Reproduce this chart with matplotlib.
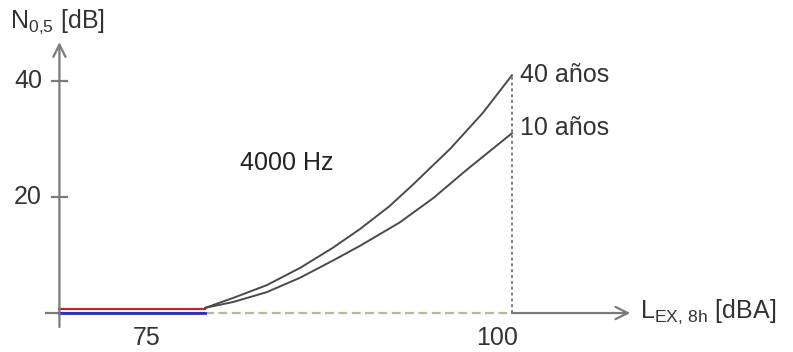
import matplotlib
matplotlib.use("Agg")
import matplotlib.pyplot as plt

plt.rcParams['font.family'] = ['Liberation Sans', 'DejaVu Sans']
plt.rcParams['mathtext.fontset'] = 'custom'
plt.rcParams['mathtext.rm'] = 'Liberation Sans'
plt.rcParams['mathtext.it'] = 'Liberation Sans'

# Hearing threshold shift N0,5 at 4000 Hz vs. daily exposure level
lex_40 = [79.0, 80.9, 83.2, 85.5, 87.7, 89.6, 91.6, 93.2, 95.8, 98.0, 100.0]
n_40 = [0.9, 2.6, 4.8, 7.8, 11.2, 14.5, 18.4, 22.1, 28.4, 34.5, 41.0]

lex_10 = [79.0, 80.9, 83.2, 85.5, 87.7, 89.6, 92.3, 94.6, 96.9, 100.0]
n_10 = [0.9, 1.9, 3.6, 6.1, 9.0, 11.6, 15.6, 19.8, 24.7, 31.0]

# flat part below the onset level
lex_flat = [69.0, 79.0]
n_flat_red = [0.7, 0.7]
n_flat_blue = [0.0, 0.0]

x_ticks = [75, 100]
y_ticks = [20, 40]
series_labels = ["40 años", "10 años"]
freq_label = "4000 Hz"

FS = 18
AX = '#7a7a7a'
CURVE = '#4a4a4a'
TXT = '#333333'

fig = plt.figure(figsize=(7.93, 3.52), dpi=100)
ax = fig.add_axes([0, 0, 1, 1])
ax.set_xlim(64.93, 119.25)
ax.set_ylim(-6.72, 53.97)
ax.axis('off')

x_origin = 69.0
x_end = 108.1
y_top = 46.7

# x axis: solid, dashed over the curve range, solid with arrow
ax.plot([68.0, 79.0], [0, 0], color=AX, lw=1.6, solid_capstyle='butt')
ax.plot([79.0, 100.0], [0, 0], color='#b8b89a', lw=1.6, ls=(0, (4, 2)))
ax.annotate('', xy=(x_end, 0), xytext=(100.0, 0),
            arrowprops=dict(arrowstyle='->', color=AX, lw=1.6,
                            mutation_scale=22, shrinkA=0, shrinkB=0))
# y axis with arrow
ax.annotate('', xy=(x_origin, y_top), xytext=(x_origin, -2.4),
            arrowprops=dict(arrowstyle='->', color=AX, lw=1.6,
                            mutation_scale=22, shrinkA=0, shrinkB=0))
for yt in y_ticks:
    ax.plot([x_origin - 0.5, x_origin + 0.5], [yt, yt], color=AX, lw=1.6)
    ax.text(67.8, yt, str(yt), ha='right', va='center', fontsize=FS, color=TXT)

for xt, dx in zip(x_ticks, [0.0, -1.0]):
    ax.text(xt + dx, -4.3, str(xt), ha='center', va='center', fontsize=FS, color=TXT)

# flat segments
ax.plot(lex_flat, n_flat_red, color='#c02828', lw=1.6)
ax.plot(lex_flat, n_flat_blue, color='#2a2ac8', lw=2.0)

# curves
ax.plot(lex_40, n_40, color=CURVE, lw=1.4)
ax.plot(lex_10, n_10, color=CURVE, lw=1.4)

# vertical dotted line at 100 dBA
ax.plot([100.0, 100.0], [0, n_40[-1]], color='#808080', lw=1.4, ls=(0, (1.5, 1.5)))

ax.text(100.55, n_40[-1], series_labels[0], ha='left', va='center', fontsize=FS, color=TXT)
ax.text(100.55, n_10[-1] + 0.9, series_labels[1], ha='left', va='center', fontsize=FS, color=TXT)
ax.text(81.4, 25.9, freq_label, ha='left', va='center', fontsize=FS, color='#222222')

ax.text(65.6, 50.2, r'N$_{\mathrm{0{,}5}}$ [dB]', ha='left', va='center', fontsize=FS, color=TXT)
ax.text(108.8, 0.2, r'L$_{\mathrm{EX,\,8h}}$ [dBA]', ha='left', va='center', fontsize=FS, color=TXT)

fig.savefig('out.png', dpi=100)
